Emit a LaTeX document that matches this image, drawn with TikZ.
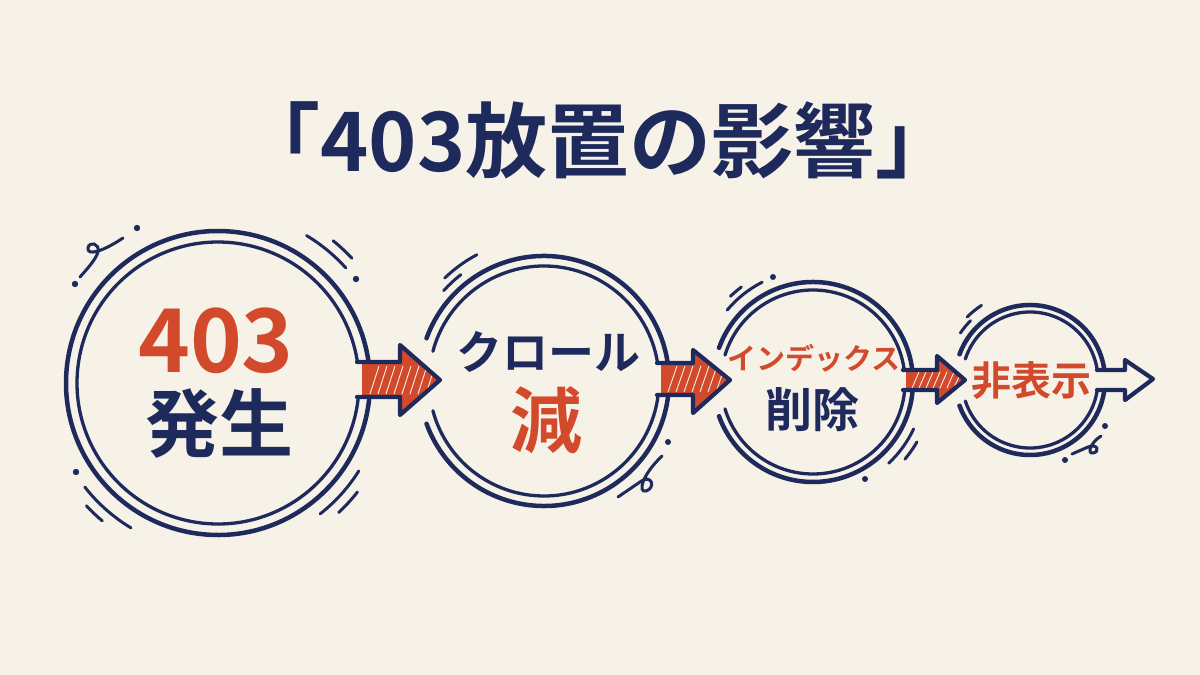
\documentclass[tikz,border=0pt]{standalone}
\usepackage{fontspec}
\newfontfamily\jp{Noto Sans CJK JP}[BoldFont={* Bold}]
\definecolor{bg}{HTML}{F6F2E8}
\definecolor{navy}{HTML}{1F2A5C}
\definecolor{rust}{HTML}{D3492C}
\begin{document}
\begin{tikzpicture}[x=1pt,y=-1pt,
  outerring/.style={draw=navy,line width=4.5pt,line cap=round},
  innerring/.style={draw=navy,line width=3.3pt,line cap=round},
  deco/.style={draw=navy,line width=3pt,line cap=round},
  arrowline/.style={draw=navy,line width=4.2pt,line join=round,line cap=round},
  streak/.style={draw=bg,line width=0.9pt,line cap=round},
  txt/.style={font=\jp\bfseries,inner sep=0pt}]
\fill[bg] (0,0) rectangle (1200,675);
\useasboundingbox (0,0) rectangle (1200,675);

% ---------- title
\node[txt,text=navy,font=\jp\bfseries\fontsize{82}{88}\selectfont] (title) at (598,140) {「403放置の影響」};

% ---------- circle centres
\coordinate (c1) at (218,383);
\coordinate (c2) at (544,381);
\coordinate (c3) at (813,382);
\coordinate (c4) at (1030,380);

% ---------- circle 1 rings
\draw[outerring] (c1) ++(5.3:152) arc[start angle=5.3,end angle=352.1,radius=152];
\draw[innerring] (c1) ++(5.7:141) arc[start angle=5.7,end angle=351.4,radius=141];
% circle 2 rings
\draw[outerring] (c2) ++(6.4:125) arc[start angle=6.4,end angle=160,radius=125];
\draw[outerring] (c2) ++(200:125) arc[start angle=200,end angle=351.7,radius=125];
\draw[innerring] (c2) ++(7:115) arc[start angle=7,end angle=165,radius=115];
\draw[innerring] (c2) ++(195:115) arc[start angle=195,end angle=351,radius=115];
% circle 3 rings
\draw[outerring] (c3) ++(4.6:100) arc[start angle=4.6,end angle=160,radius=100];
\draw[outerring] (c3) ++(200:100) arc[start angle=200,end angle=353.1,radius=100];
\draw[innerring] (c3) ++(5:92) arc[start angle=5,end angle=163,radius=92];
\draw[innerring] (c3) ++(197:92) arc[start angle=197,end angle=352.5,radius=92];
% circle 4 rings
\draw[outerring] (c4) ++(7.7:75) arc[start angle=7.7,end angle=160,radius=75];
\draw[outerring] (c4) ++(200:75) arc[start angle=200,end angle=352.3,radius=75];
\draw[innerring] (c4) ++(8.5:68) arc[start angle=8.5,end angle=162,radius=68];
\draw[innerring] (c4) ++(198:68) arc[start angle=198,end angle=351.5,radius=68];

% ---------- decorations circle 1
\draw[deco] (80,277) .. controls (88,268) and (96,259) .. (98,252)
  .. controls (100,243) and (89,241) .. (88,248)
  .. controls (87,256) and (102,252) .. (123,238);
\fill[navy] (137,228) circle (3.2);
\fill[navy] (75,284) circle (3.2);
\draw[deco] (c1) ++(-59:172) arc[start angle=-59,end angle=-42,radius=172];
\draw[deco] (c1) ++(-51:183) arc[start angle=-51,end angle=-43,radius=183];
\fill[navy] (356,279) circle (3.2);
\draw[deco] (c1) ++(121:169) arc[start angle=121,end angle=142,radius=169];
\draw[deco] (c1) ++(130:180) arc[start angle=130,end angle=137,radius=180];
\fill[navy] (76,472) circle (3.2);
\draw[deco] (c1) ++(32:166) arc[start angle=32,end angle=52,radius=166];
\draw[deco] (c1) ++(38:177) arc[start angle=38,end angle=47,radius=177];

% ---------- decorations circle 2
\draw[deco] (c2) ++(226:143) arc[start angle=226,end angle=242,radius=143];
\draw[deco] (c2) ++(222:135) arc[start angle=222,end angle=232,radius=135];
\draw[deco] (618,497) -- (640,482) .. controls (652,473) and (656,488) .. (646,491)
  .. controls (638,493) and (641,476) .. (662,456);
\fill[navy] (668,442) circle (3);

% ---------- decorations circle 3
\draw[deco] (c3) ++(226:119) arc[start angle=226,end angle=233,radius=119];
\draw[deco] (c3) ++(220:112) arc[start angle=220,end angle=243,radius=112];
\fill[navy] (773,277) circle (3);
\draw[deco] (c3) ++(25:111) arc[start angle=25,end angle=47,radius=111];
\draw[deco] (c3) ++(30:120) arc[start angle=30,end angle=40,radius=120];
\fill[navy] (865,479) circle (3);

% ---------- decorations circle 4
\draw[deco] (c4) ++(225:89) arc[start angle=225,end angle=237,radius=89];
\draw[deco] (c4) ++(214:84) arc[start angle=214,end angle=225,radius=84];
\draw[deco] (1072,454) -- (1088,447) .. controls (1098,443) and (1100,452) .. (1093,453)
  .. controls (1087,454) and (1090,443) .. (1101,436);
\fill[navy] (1105,426) circle (3);
\fill[navy] (1065,460) circle (3);

% ---------- arrows (red hatched)
\begin{scope}
  \clip (362,363) -- (400,363) -- (400,345) -- (440,380) -- (400,415) -- (400,397) -- (362,397) -- cycle;
  \fill[rust] (350,340) rectangle (445,420);
  \foreach \x in {370,378,...,434} \draw[streak] (\x,394) -- (\x+9,366);
\end{scope}
\draw[arrowline] (357,362) -- (400,362) -- (400,345) -- (440,380) -- (400,415) -- (400,397) -- (357,397);

\begin{scope}
  \clip (661,364) -- (693,364) -- (693,350) -- (730,380) -- (693,413) -- (693,395) -- (661,395) -- cycle;
  \fill[rust] (650,345) rectangle (735,420);
  \foreach \x in {668,676,...,724} \draw[streak] (\x,392) -- (\x+9,366);
\end{scope}
\draw[arrowline] (657,363) -- (693,363) -- (693,350) -- (730,380) -- (693,413) -- (693,395) -- (657,395);

\begin{scope}
  \clip (906,370) -- (937,370) -- (937,356) -- (965,380) -- (937,403) -- (937,390) -- (906,390) -- cycle;
  \fill[rust] (900,350) rectangle (970,410);
  \foreach \x in {912,919,...,958} \draw[streak] (\x,388) -- (\x+7,372);
\end{scope}
\draw[arrowline] (903,370) -- (937,370) -- (937,356) -- (965,380) -- (937,403) -- (937,390) -- (903,390);

% last arrow (open)
\draw[arrowline,fill=bg] (1097,370) -- (1125,370) -- (1125,360) -- (1153,379) -- (1125,400) -- (1125,390) -- (1097,390);

% ---------- texts
\node[txt,text=rust,font=\jp\bfseries\fontsize{88}{90}\selectfont] (t1a) at (216,341) {403};
\node[txt,text=navy,font=\jp\bfseries\fontsize{74}{76}\selectfont] (t1b) at (219,424) {発生};
\node[txt,text=navy,font=\jp\bfseries\fontsize{46}{48}\selectfont] (t2a) at (548,352) {クロール};
\node[txt,text=rust,font=\jp\bfseries\fontsize{72}{74}\selectfont] (t2b) at (546,420) {減};
\node[txt,text=rust,font=\jp\bfseries\fontsize{29}{31}\selectfont] (t3a) at (814,358) {インデックス};
\node[txt,text=navy,font=\jp\bfseries\fontsize{47}{49}\selectfont] (t3b) at (812,410) {削除};
\node[txt,text=rust,font=\jp\bfseries\fontsize{40}{42}\selectfont] (t4) at (1031,381) {非表示};
\end{tikzpicture}
\end{document}
